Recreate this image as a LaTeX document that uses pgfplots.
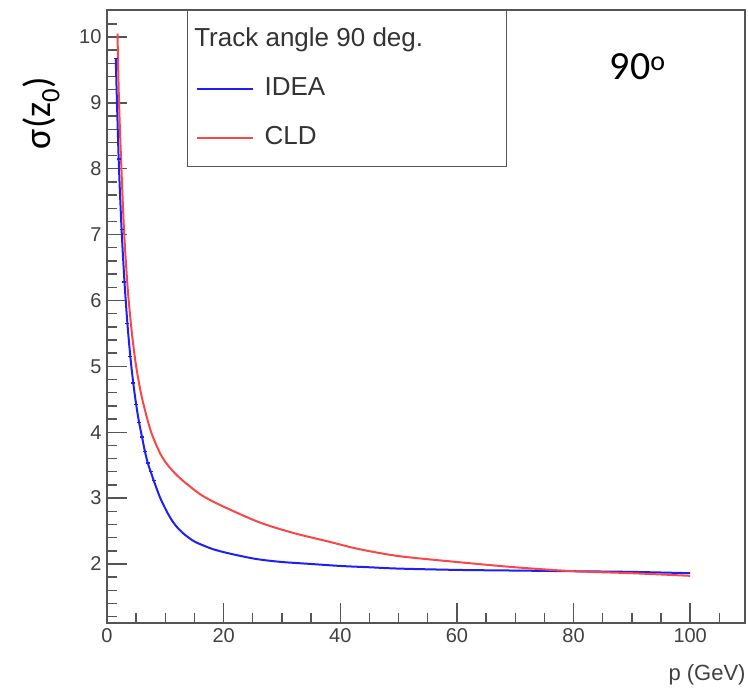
\documentclass[border=0pt]{standalone}
\usepackage{fontspec}
\setmainfont{Liberation Sans}
\newfontfamily\calib{Carlito}
\usepackage{pgfplots}
\pgfplotsset{compat=1.18}
\definecolor{ideablue}{RGB}{30,30,245}
\definecolor{cldred}{RGB}{250,70,70}
\definecolor{axgray}{RGB}{85,85,85}
\begin{document}
\begin{tikzpicture}
\path[use as bounding box] (0,0) rectangle (748bp,688bp);
\begin{axis}[
  at={(107bp,65bp)}, anchor=south west,
  scale only axis, width=638bp, height=613bp,
  xmin=0, xmax=109.4, ymin=1.104, ymax=10.41,
  xtick={0,20,40,60,80,100},
  minor xtick={5,10,15,25,30,35,45,50,55,65,70,75,85,90,95,105},
  ytick={2,3,4,5,6,7,8,9,10},
  minor ytick={1.2,1.4,1.6,1.8,2.2,2.4,2.6,2.8,3.2,3.4,3.6,3.8,4.2,4.4,4.6,4.8,5.2,5.4,5.6,5.8,6.2,6.4,6.6,6.8,7.2,7.4,7.6,7.8,8.2,8.4,8.6,8.8,9.2,9.4,9.6,9.8,10.2,10.4},
  tick pos=left, tick align=inside,
  major tick length=20bp, minor tick length=10bp,
  every tick/.style={axgray, line width=1.4bp},
  axis line style={axgray, line width=1.5bp},
  /pgf/number format/assume math mode=true,
  tick label style={font=\fontsize{20bp}{24bp}\selectfont, text=black!75},
  yticklabel style={xshift=-2bp},
  xticklabel style={yshift=-2bp},
  xlabel={p (GeV)},
  xlabel style={at={(rel axis cs:0.8746,0)}, anchor=north west, yshift=-38bp, font=\fontsize{22bp}{26bp}\selectfont, text=black!75},
  ylabel={\calib σ(z\textsubscript{0})},
  ylabel style={at={(rel axis cs:-0.103,0.832)}, anchor=center, font=\fontsize{38bp}{44bp}\selectfont},
  legend cell align=left,
  legend style={at={(rel axis cs:0.1254,1)}, anchor=north west, draw=axgray, line width=1.3bp, fill=white,
    inner xsep=6bp, inner ysep=14bp, row sep=19bp,
    font=\fontsize{26bp}{30bp}\selectfont, text=black!80,
    nodes={text height=19bp, text depth=5bp, inner sep=3bp}},
]
\addlegendimage{legend image code/.code={\node[overlay, anchor=west, inner sep=0pt, text=black!80, font=\fontsize{26bp}{30bp}\selectfont] at (0bp,0bp) {Track angle 90 deg.};}}
\addlegendentry{}
\addlegendimage{legend image code/.code={\draw[ideablue, line width=2bp] (3bp,0bp) -- (59bp,0bp);}}
\addlegendentry{\hspace*{8bp}\makebox[233bp][l]{IDEA}}
\addlegendimage{legend image code/.code={\draw[cldred, line width=2bp] (3bp,0bp) -- (59bp,0bp);}}
\addlegendentry{\hspace*{8bp}CLD}
\addplot[ideablue, line width=2bp, smooth, forget plot] coordinates {
(1.5,9.67) (2,8.15) (2.5,7.08) (3,6.28) (3.5,5.65) (4,5.15) (4.5,4.75) (5,4.42)
(5.5,4.15) (6,3.93) (6.5,3.71) (7,3.53) (7.5,3.40) (8,3.27) (9,3.03) (10,2.84)
(11,2.68) (12,2.56) (13,2.47) (14,2.40) (15,2.34) (16,2.30) (18,2.23) (20,2.18)
(23,2.12) (26,2.07) (30,2.03) (35,2.00) (40,1.97) (45,1.95) (50,1.93) (60,1.91)
(70,1.90) (80,1.89) (90,1.88) (100,1.86)
};
\addplot[cldred, line width=2bp, smooth, forget plot] coordinates {
(1.8,10.05) (2.05,9.04) (2.46,8.03) (2.9,7.10) (3.3,6.50) (3.66,6.06) (4.3,5.48)
(5,5.0) (6,4.52) (7.5,4.02) (9,3.70) (10,3.55) (11.5,3.39) (13.2,3.25) (16.3,3.04)
(20,2.87) (26.2,2.63) (32,2.47) (38,2.34) (43,2.23) (50,2.12) (60,2.03) (70,1.95)
(80,1.89) (90,1.86) (100,1.82)
};
\addplot[ideablue, only marks, mark=-, mark size=2bp, mark options={line width=1.4bp}, forget plot] coordinates {
(1.5,9.67) (2,8.15) (2.5,7.08) (3,6.28) (3.5,5.65) (4,5.15) (4.5,4.75) (5,4.42)
(5.5,4.15) (6,3.93) (6.5,3.71) (7,3.53) (7.5,3.40) (8,3.27)
};
\node[anchor=base west, inner sep=0pt, font=\calib\fontsize{40bp}{48bp}\selectfont] at (rel axis cs:0.788,0.886) {90\textsuperscript{o}};
\end{axis}
\end{tikzpicture}
\end{document}
